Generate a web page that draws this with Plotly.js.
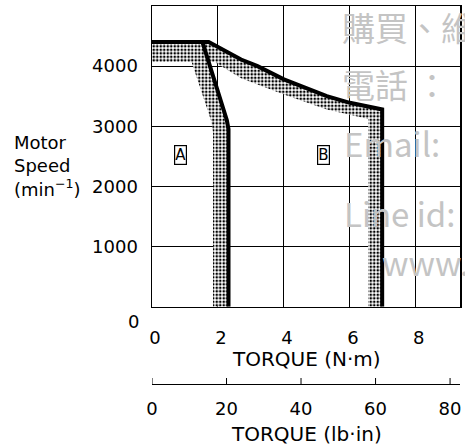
<!DOCTYPE html>
<html>
<head>
<meta charset="utf-8">
<script src="https://cdn.plot.ly/plotly-3.0.1.min.js"></script>
<style>html,body{margin:0;padding:0;background:#fff;}#chart{width:465px;height:446px;}</style>
</head>
<body>
<div id="chart"></div>
<script>
// ---- data (torque in N·m, speed in min^-1) ----
const curveA_torque = [0, 1.53, 2.27, 2.32, 2.32];
const curveA_speed  = [4400, 4400, 3100, 2950, 0];
const bandA_inner_torque = [0, 1.2, 1.8, 1.85, 1.85];
const bandA_inner_speed  = [4070, 4070, 3080, 2900, 0];

const curveB_torque = [0, 1.72, 2.7, 3.2, 4.0, 4.7, 5.3, 6.0, 6.98, 6.98];
const curveB_speed  = [4400, 4400, 4110, 4000, 3780, 3620, 3500, 3390, 3280, 0];
const bandB_inner_torque = [0, 1.9, 2.7, 4.0, 5.3, 6.0, 6.55, 6.55];
const bandB_inner_speed  = [4070, 4070, 3800, 3530, 3280, 3190, 3120, 0];

const nmTicks = [0, 2, 4, 6, 8];
const speedTicks = [1000, 2000, 3000, 4000];
const lbinTicks = [0, 20, 40, 60, 80];
const NM_TO_LBIN = 8.8507;
const torqueMax = 9.34;
const speedMax = 5000;

const regionLabels = ["A", "B"];
const regionTorque = [0.85, 5.19];
const regionSpeed = [2515, 2515];

const watermark = ["購買、維", "電話 ：", "Email:", "Line id:", "www."];

// ---- build ----
function band(outX, outY, inX, inY) {
  return {
    x: outX.concat(inX.slice().reverse()),
    y: outY.concat(inY.slice().reverse())
  };
}
const bA = band(curveA_torque, curveA_speed, bandA_inner_torque, bandA_inner_speed);
const bB = band(curveB_torque, curveB_speed, bandB_inner_torque, bandB_inner_speed);
const pattern = {shape: '.', bgcolor: 'white', fgcolor: 'black', size: 3.5, solidity: 0.45};

const traces = [
  {x: bB.x, y: bB.y, type: 'scatter', mode: 'lines', fill: 'toself', line: {width: 0, color: 'rgba(0,0,0,0)'}, fillcolor: 'rgba(0,0,0,0)', fillpattern: pattern, hoverinfo: 'skip'},
  {x: bA.x, y: bA.y, type: 'scatter', mode: 'lines', fill: 'toself', line: {width: 0, color: 'rgba(0,0,0,0)'}, fillcolor: 'rgba(0,0,0,0)', fillpattern: pattern, hoverinfo: 'skip'},
  {x: curveA_torque, y: curveA_speed, type: 'scatter', mode: 'lines', line: {color: 'black', width: 4}},
  {x: curveB_torque, y: curveB_speed, type: 'scatter', mode: 'lines', line: {color: 'black', width: 4}},
  // same curve expressed in lb·in on the secondary torque scale (transparent, keeps the axis drawn)
  {x: curveB_torque.map(v => v * NM_TO_LBIN), y: curveB_speed, xaxis: 'x2', yaxis: 'y', type: 'scatter', mode: 'lines',
   line: {color: 'rgba(0,0,0,0)', width: 0}, hoverinfo: 'skip'}
];

const F = 'DejaVu Sans, Arial, sans-serif';
const padTop = 6, padBottom = 62, H = 446;
const paperH = H - padTop - padBottom;
const pyToPaper = py => (H - padBottom - py) / paperH;
const plotBottomPx = 306.7;
const yDomainBottom = pyToPaper(plotBottomPx);

const annotations = [];
regionLabels.forEach((t, i) => annotations.push({
  x: regionTorque[i], y: regionSpeed[i], xref: 'x', yref: 'y', text: t, showarrow: false,
  font: {family: F, size: 15, color: 'black'}, bordercolor: 'black', borderwidth: 1.2, borderpad: 0, bgcolor: 'white'
}));
annotations.push({x: 0, y: 0, xref: 'paper', yref: 'y', text: '0', showarrow: false, xanchor: 'center', yanchor: 'middle',
  xshift: -19, yshift: -15, font: {family: F, size: 18, color: 'black'}});
annotations.push({x: 0.5, y: pyToPaper(359), xref: 'paper', yref: 'paper', text: 'TORQUE (N·m)', showarrow: false,
  yanchor: 'middle', font: {family: F, size: 20, color: 'black'}});
annotations.push({x: 0.5, y: pyToPaper(434), xref: 'paper', yref: 'paper', text: 'TORQUE (lb·in)', showarrow: false,
  yanchor: 'middle', font: {family: F, size: 20, color: 'black'}});
annotations.push({x: (12 - 152) / 308, y: pyToPaper(166), xref: 'paper', yref: 'paper', xanchor: 'left', yanchor: 'middle', align: 'left',
  text: 'Motor<br>Speed<br>(min<sup>−1</sup>)', showarrow: false, font: {family: F, size: 18, color: 'black'}});

const wmX = [340, 340, 342, 342, 380];
const wmY = [27, 84, 143, 213, 262];
watermark.forEach((t, i) => annotations.push({
  x: (wmX[i] - 152) / 308, y: pyToPaper(wmY[i]), xref: 'paper', yref: 'paper', xanchor: 'left', yanchor: 'middle',
  text: t, showarrow: false, font: {family: 'Noto Sans CJK TC, sans-serif', size: 33, color: '#c4c4c4'}
}));

// upward tick marks on the lb·in scale
const shapes = lbinTicks.map(v => ({
  type: 'line', xref: 'x2', yref: 'paper', x0: v, x1: v, y0: 0, y1: 6 / paperH,
  line: {color: 'black', width: 1}
}));

const layout = {
  width: 465, height: 446,
  margin: {l: 152, r: 5, t: padTop, b: padBottom, pad: 0},
  paper_bgcolor: 'white', plot_bgcolor: 'white',
  showlegend: false,
  xaxis: {
    range: [0, torqueMax], tickvals: nmTicks, showgrid: true, gridcolor: 'black', gridwidth: 1,
    showline: true, mirror: true, linecolor: 'black', linewidth: 1.5, ticks: '', zeroline: false,
    tickfont: {family: F, size: 18, color: 'black'}, ticklabelstandoff: 14, ticklabelshift: 3, fixedrange: true
  },
  yaxis: {
    domain: [yDomainBottom, 1], range: [0, speedMax], tickvals: speedTicks, showgrid: true, gridcolor: 'black', gridwidth: 1,
    showline: true, mirror: true, linecolor: 'black', linewidth: 1.5, ticks: '', zeroline: false,
    tickfont: {family: F, size: 18, color: 'black'}, ticklabelstandoff: 9, fixedrange: true
  },
  xaxis2: {
    overlaying: 'x', anchor: 'free', position: 0, side: 'bottom',
    range: [0, torqueMax * NM_TO_LBIN], tickvals: lbinTicks, ticks: '',
    showline: true, linecolor: 'black', linewidth: 1, showgrid: false, zeroline: false,
    tickfont: {family: F, size: 18, color: 'black'}, ticklabelstandoff: 8, fixedrange: true
  },
  shapes: shapes,
  annotations: annotations
};

Plotly.newPlot('chart', traces, layout, {staticPlot: true, displayModeBar: false});
</script>
</body>
</html>
